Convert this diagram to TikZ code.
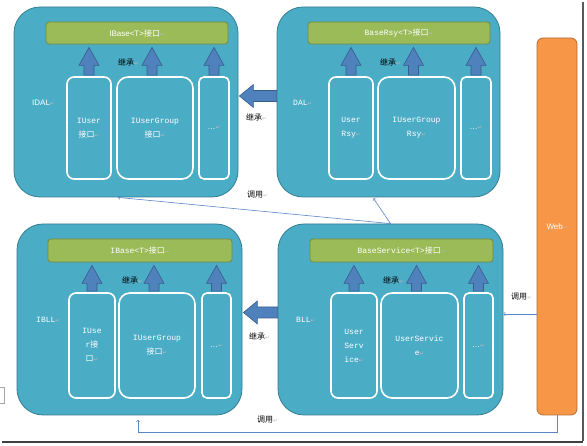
\documentclass[tikz,border=0pt]{standalone}
\usepackage{fontspec}
\setmainfont{Liberation Sans}
\setmonofont{Liberation Mono}
\newfontfamily\cjk{Noto Sans CJK SC}
\newfontfamily\dejavu{DejaVu Sans}
\usetikzlibrary{calc}
\definecolor{tealfill}{HTML}{4BACC6}
\definecolor{tealline}{HTML}{357D91}
\definecolor{barfill}{HTML}{9BBB59}
\definecolor{barline}{HTML}{71893F}
\definecolor{arrowfill}{HTML}{4F81BD}
\definecolor{arrowline}{HTML}{385D8A}
\definecolor{webfill}{HTML}{F79646}
\definecolor{webline}{HTML}{B66D31}
\definecolor{callblue}{HTML}{5B86C8}
\newcommand{\parmk}{{\dejavu\fontsize{5.5}{6}\selectfont\color{gray!55}↵}}
\tikzset{
  layer/.style={draw=tealline, fill=tealfill, line width=0.8pt, rounded corners=26pt},
  basebar/.style={draw=barline, fill=barfill, line width=0.8pt, rounded corners=3pt, text=white, font=\ttfamily\fontsize{8}{10}\selectfont},
  cls/.style={draw=white, fill=tealfill, line width=1.6pt, rounded corners=7pt, text=white, align=center, font=\ttfamily\fontsize{8}{14}\selectfont, inner sep=1pt},
  fatarrow/.style={draw=arrowline, fill=arrowfill, line width=0.6pt},
  note/.style={font=\cjk\fontsize{8}{10}\selectfont, anchor=west, inner sep=0pt},
  layername/.style={text=white, anchor=west, inner sep=0pt, font=\ttfamily\fontsize{8}{10}\selectfont},
  call/.style={draw=callblue, line width=0.6pt, ->},
}
\begin{document}
\begin{tikzpicture}[x=1pt, y=-1pt]
\useasboundingbox (0,0) rectangle (587,446);
% layers
\node[layer, minimum width=224pt, minimum height=190pt] (idal) at (126,102) {};
\node[layer, minimum width=223pt, minimum height=190pt] (dal) at (388.5,102) {};
\node[layer, minimum width=225pt, minimum height=191pt] (ibll) at (129.5,319.5) {};
\node[layer, minimum width=225pt, minimum height=191pt] (bll) at (390.5,319.5) {};
\node[layername, font=\rmfamily\fontsize{8}{10}\selectfont] (idalname) at (32,103) {IDAL\parmk};
\node[layername] (dalname) at (293,103) {DAL\parmk};
\node[layername] (ibllname) at (36,320) {IBLL\parmk};
\node[layername] (bllname) at (296,320) {BLL\parmk};
% base interfaces
\node[basebar, minimum width=182pt, minimum height=22pt, font=\rmfamily\fontsize{8}{10}\selectfont] (idalbar) at (137,33) {IBase<T>{\cjk 接口}\parmk};
\node[basebar, minimum width=182pt, minimum height=22pt] (dalbar) at (399,33) {BaseRsy<T>{\cjk 接口}\parmk};
\node[basebar, minimum width=184pt, minimum height=23pt] (ibllbar) at (140,250.5) {IBase<T>{\cjk 接口}\parmk};
\node[basebar, minimum width=183pt, minimum height=23pt] (bllbar) at (401.5,250.5) {BaseService<T>{\cjk 接口}\parmk};
% classes
\node[cls, minimum width=44pt, minimum height=102pt] (idal1) at (89,128) {IUser\\{\cjk 接口}\parmk};
\node[cls, minimum width=76pt, minimum height=102pt, rounded corners=11pt] (idal2) at (155,128) {IUserGroup\\{\cjk 接口}\parmk};
\node[cls, minimum width=30pt, minimum height=102pt, rounded corners=5pt] (idal3) at (214,128) {{\rmfamily …}\parmk};
\node[cls, minimum width=44pt, minimum height=102pt] (dal1) at (351,128) {User\\Rsy\parmk};
\node[cls, minimum width=77pt, minimum height=102pt, rounded corners=11pt] (dal2) at (416.5,128) {IUserGroup\\Rsy\parmk};
\node[cls, minimum width=30pt, minimum height=102pt, rounded corners=5pt] (dal3) at (476,128) {{\rmfamily …}\parmk};
\node[cls, minimum width=46pt, minimum height=105pt] (ibll1) at (92,345.5) {IUse\\r{\cjk 接}\\{\cjk 口}\parmk};
\node[cls, minimum width=76pt, minimum height=105pt, rounded corners=11pt] (ibll2) at (157,345.5) {IUserGroup\\{\cjk 接口}\parmk};
\node[cls, minimum width=29pt, minimum height=105pt, rounded corners=5pt] (ibll3) at (216.5,345.5) {{\rmfamily …}\parmk};
\node[cls, minimum width=46pt, minimum height=105pt] (bll1) at (354,345.5) {User\\Serv\\ice\parmk};
\node[cls, minimum width=77pt, minimum height=105pt, rounded corners=11pt] (bll2) at (419.5,345.5) {UserServic\\e\parmk};
\node[cls, minimum width=29pt, minimum height=105pt, rounded corners=5pt] (bll3) at (478.5,345.5) {{\rmfamily …}\parmk};
% web
\node[draw=webline, fill=webfill, line width=0.8pt, rounded corners=6pt, minimum width=40pt, minimum height=377pt, text=white, font=\rmfamily\fontsize{8}{10}\selectfont] (web) at (557,226.5) {Web\parmk};
% inheritance arrows
\foreach \p in {idal,dal,ibll,bll}
\foreach \i/\dx in {1/0,2/-3,3/0} {
  \coordinate (t) at ($(\p\i.north |- \p bar.south)+(\dx,0)$);
  \draw[fatarrow] ($(\p\i.north)+(\dx-5,-1)$) -- ($(t)+(-5,21)$) -- ++(-5,0) -- ($(t)+(0,3)$) -- ++(10,18) -- ++(-5,0) -- ($(\p\i.north)+(\dx+5,-1)$) -- cycle;
}
\foreach \a/\b/\dy in {idal/dal/-6, ibll/bll/-7} {
  \draw[fatarrow] ($(\b.west)+(0,\dy-5.5)$) -- ($(\a.east)+(15,\dy-5.5)$) -- ++(0,-6) -- ($(\a.east)+(1,\dy)$) -- ++(14,11.5) -- ++(0,-6) -- ($(\b.west)+(0,\dy+5.5)$) -- cycle;
}
% calls
\coordinate (ibllin) at (138,420);
\draw[call] (web.south) -- ++(0,17) -| (ibllin);
\draw[call] (web.west |- bll.east) ++(0,-5.5) -- ($(bll.east)+(0,-5.5)$);
\draw[call] (bll.north) -- ($(idal.south)+(-8,0)$);
\draw[call] (bll.north) -- ($(dal.south)+(-15,1)$);
% labels
\node[note] (inh1) at (118,62) {继承\parmk};
\node[note] (inh2) at (380,62) {继承\parmk};
\node[note] (inh3) at (122,280) {继承\parmk};
\node[note] (inh4) at (383,280) {继承\parmk};
\node[note] (inh5) at (246,117) {继承\parmk};
\node[note] (inh6) at (249,336) {继承\parmk};
\node[note] (call1) at (247,195) {调用\parmk};
\node[note] (call2) at (257,420) {调用\parmk};
\node[note] (call3) at (511,297) {调用\parmk};
% page edge
\draw[black!65, line width=1.5pt] (583,2) -- (583,441);
\draw[black!75, line width=2.5pt] (2,442) -- (583,442);
\draw[black!35, line width=0.6pt] (0,387) -- (4,387) -- (4,403) -- (0,403);
\end{tikzpicture}
\end{document}
